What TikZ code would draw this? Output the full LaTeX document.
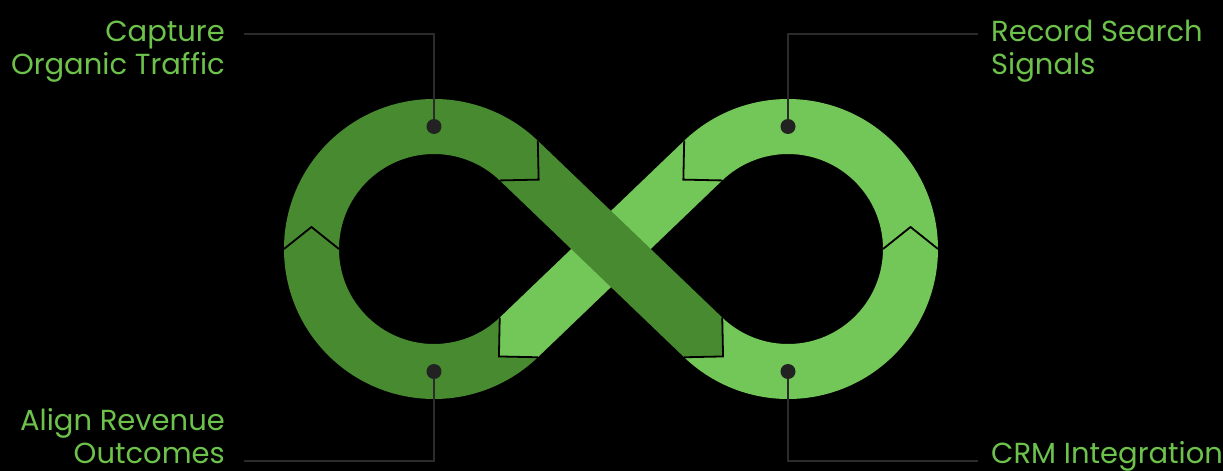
\documentclass[tikz,border=0pt]{standalone}
\usepackage{fontspec}
\setmainfont{Poppins}
\usetikzlibrary{calc}
\definecolor{darkg}{HTML}{478A2F}
\definecolor{lightg}{HTML}{73C658}
\definecolor{textg}{HTML}{6DC24B}
\definecolor{leadc}{HTML}{2B2B2B}
\definecolor{dotc}{HTML}{222222}
\begin{document}
\begin{tikzpicture}[x=1pt,y=1pt,
  joint/.style={draw=black,line width=1.8pt,line join=miter},
  leader/.style={draw=leadc,line width=1.5pt},
  dotnode/.style={circle,fill=dotc,inner sep=0pt,minimum size=15pt},
  lbl/.style={text=textg,inner sep=0pt,font=\fontsize{29}{33}\selectfont}]
\fill[black] (-611,-222) rectangle (612,249);
\useasboundingbox (-611,-222) rectangle (612,249);
\def\Ro{150}\def\Ri{95}\def\Rm{122.5}\def\hw{27.5}\def\tp{22}
\pgfmathsetmacro\th{asin(122.5/177)}
\pgfmathsetmacro\al{90-\th}
\coordinate (CL) at (-177,0);
\coordinate (CR) at (177,0);
% dark band points
\coordinate (A) at ($(CL)+(\al:\Ro)$);
\coordinate (B) at ($(CL)+(\al:\Ri)$);
\coordinate (T2) at ($(CL)+(\al:\Rm)+(-\th:\hw)$);
\coordinate (C) at ($(CR)+(180+\al:\Ro)$);
\coordinate (D) at ($(CR)+(180+\al:\Ri)$);
\coordinate (T3) at ($(CR)+(180+\al:\Rm)+(-\th:\hw)$);
% light band points
\coordinate (E) at ($(CR)+(180-\al:\Ro)$);
\coordinate (F) at ($(CR)+(180-\al:\Ri)$);
\coordinate (T5) at ($(CR)+(180-\al:\Rm)+(180+\th:\hw)$);
\coordinate (G) at ($(CL)+(-\al:\Ro)$);
\coordinate (H) at ($(CL)+(-\al:\Ri)$);
\coordinate (T6) at ($(CL)+(-\al:\Rm)+(180+\th:\hw)$);
% side joints
\coordinate (LO) at ($(CL)+(180:\Ro)$);
\coordinate (LI) at ($(CL)+(180:\Ri)$);
\coordinate (T1) at ($(CL)+(180:\Rm)+(90:\tp)$);
\coordinate (RO) at ($(CR)+(0:\Ro)$);
\coordinate (RI) at ($(CR)+(0:\Ri)$);
\coordinate (T4) at ($(CR)+(0:\Rm)+(90:\tp)$);
% left top piece
\fill[darkg] (LO) arc[start angle=180,end angle=\al,radius=\Ro] -- (T2) -- (B)
  arc[start angle=\al,end angle=180,radius=\Ri] -- (T1) -- cycle;
% left bottom piece
\fill[darkg] (LI) arc[start angle=180,end angle=360-\al,radius=\Ri] -- (T6) -- (G)
  arc[start angle=360-\al,end angle=180,radius=\Ro] -- (T1) -- cycle;
% right bottom piece
\fill[lightg] (D) arc[start angle=180+\al,end angle=360,radius=\Ri] -- (T4) -- (RO)
  arc[start angle=360,end angle=180+\al,radius=\Ro] -- (T3) -- cycle;
% right top piece
\fill[lightg] (RI) arc[start angle=0,end angle=180-\al,radius=\Ri] -- (T5) -- (E)
  arc[start angle=180-\al,end angle=0,radius=\Ro] -- (T4) -- cycle;
% bands
\fill[lightg] (E) -- (T5) -- (F) -- (G) -- (T6) -- (H) -- cycle;
\fill[darkg] (A) -- (T2) -- (B) -- (C) -- (T3) -- (D) -- cycle;
% joints
\draw[joint] (LO) -- (T1) -- (LI);
\draw[joint] (A) -- (T2) -- (B);
\draw[joint] (C) -- (T3) -- (D);
\draw[joint] (RO) -- (T4) -- (RI);
\draw[joint] (E) -- (T5) -- (F);
\draw[joint] (G) -- (T6) -- (H);
% dots and leaders
\node[dotnode] (d1) at ($(CL)+(0,\Rm)$) {};
\node[dotnode] (d2) at ($(CR)+(0,\Rm)$) {};
\node[dotnode] (d3) at ($(CL)+(0,-\Rm)$) {};
\node[dotnode] (d4) at ($(CR)+(0,-\Rm)$) {};
\node[lbl,anchor=base east,align=right] (l1) at (-386,174) {Capture\\Organic Traffic};
\node[lbl,anchor=base west,align=left] (l2) at (380,174) {Record Search\\Signals};
\node[lbl,anchor=base east,align=right] (l3) at (-386,-214) {Align Revenue\\Outcomes};
\node[lbl,anchor=base west] (l4) at (380,-214) {CRM Integration};
\coordinate (k1) at (-367,215);
\coordinate (k2) at (367,215);
\coordinate (k3) at (-367,-212);
\coordinate (k4) at (367,-212);
\draw[leader] (d1.north) |- (k1);
\draw[leader] (d2.north) |- (k2);
\draw[leader] (d3.south) |- (k3);
\draw[leader] (d4.south) |- (k4);
\end{tikzpicture}
\end{document}
